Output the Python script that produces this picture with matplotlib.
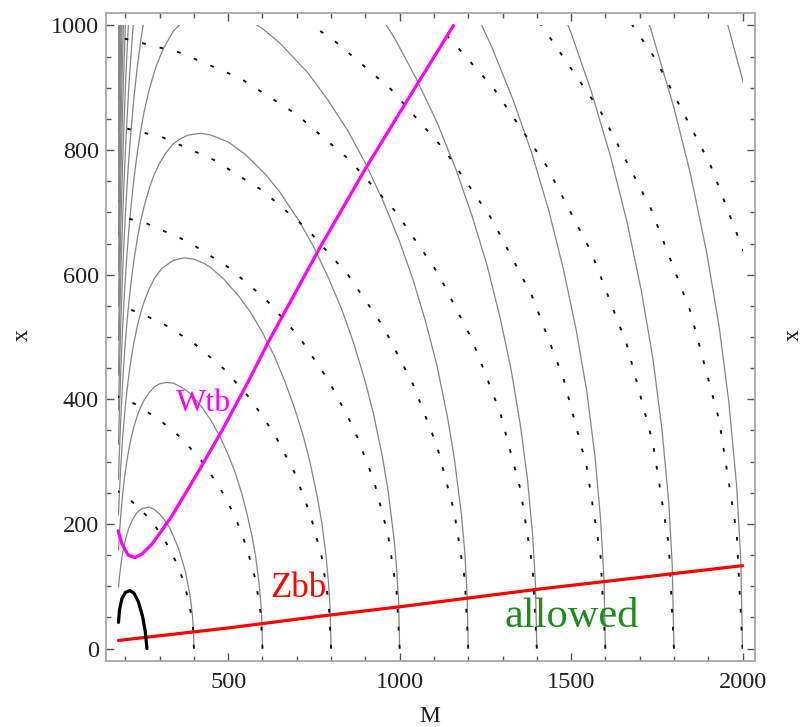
import matplotlib
matplotlib.use("Agg")
import matplotlib.pyplot as plt
from matplotlib.patches import Rectangle
from matplotlib.ticker import MultipleLocator, FixedLocator

plt.rcParams['font.family'] = ['Liberation Serif', 'DejaVu Serif']

# ---------------- data (M, x) ----------------
# solid grey contours (levels 400 ... 3600)
solid_400_M = [180, 183, 186, 190, 195, 200, 210, 220, 235, 250, 270, 285, 300, 315, 330, 355, 375, 388, 392, 396, 399, 400]
solid_400_x = [99, 116, 130, 146, 161, 174, 193, 206, 219, 225, 227, 223, 216, 206, 193, 161, 124, 87, 71, 51, 26, 0]
solid_600_M = [180, 183, 187, 192, 196, 200, 205, 210, 215, 225, 235, 245, 255, 270, 285, 300, 320, 340, 365, 390,
               424, 450, 476, 500, 520, 540, 554, 570, 580, 590, 595, 598, 600]
solid_600_x = [158, 186, 216, 247, 267, 284, 303, 319, 333, 356, 374, 388, 399, 411, 420, 425, 427, 426, 419, 409,
               387, 366, 340, 311, 283, 248, 218, 179, 148, 104, 75, 47, 0]
solid_800_M = [180, 183, 187, 192, 196, 200, 205, 210, 215, 225, 235, 245, 255, 270, 285, 306, 340, 370, 400, 430,
               450, 487, 530, 566, 600, 635, 665, 693, 720, 739, 760, 773, 785, 793, 797, 800]
solid_800_x = [215, 254, 295, 337, 365, 389, 415, 438, 458, 491, 518, 539, 557, 578, 594, 610, 623, 627, 625, 618,
               611, 593, 566, 539, 507, 469, 429, 387, 339, 298, 243, 202, 151, 102, 68, 0]
solid_1000_M = [180, 183, 187, 192, 196, 200, 205, 210, 215, 225, 235, 245, 255, 270, 285, 300, 320, 340, 360, 383,
                420, 450, 500, 550, 609, 650, 707, 750, 793, 830, 866, 900, 924, 950, 966, 985, 991, 997, 1000]
solid_1000_x = [272, 321, 373, 426, 461, 492, 525, 554, 580, 623, 658, 687, 710, 739, 762, 779, 797, 810, 818, 824,
                827, 824, 813, 793, 761, 733, 686, 644, 594, 546, 490, 428, 376, 307, 255, 170, 129, 76, 0]
solid_1200_M = [180, 183, 187, 192, 196, 200, 205, 210, 215, 225, 235, 245, 255, 270, 290, 311, 340, 380, 420, 459,
                500, 550, 600, 650, 731, 790, 849, 900, 952, 1000, 1039, 1075, 1109, 1140, 1159, 1180, 1190, 1197, 1200]
solid_1200_x = [328, 387, 450, 514, 557, 594, 634, 670, 701, 754, 796, 832, 862, 898, 935, 963, 991, 1013, 1024, 1027,
                1024, 1012, 995, 972, 925, 881, 831, 779, 718, 653, 592, 526, 454, 370, 307, 216, 155, 84, 0]
solid_1400_M = [180, 183, 187, 192, 196, 200, 205, 210, 215, 225, 235, 245, 255, 270,
                852, 920, 990, 1050, 1111, 1165, 1212, 1255, 1293, 1325, 1352, 1373, 1388, 1396, 1400]
solid_1400_x = [383, 453, 527, 602, 652, 695, 743, 785, 821, 884, 934, 976, 1011, 1055,
                1088, 1037, 975, 913, 842, 768, 693, 615, 531, 448, 359, 271, 181, 105, 0]
solid_1600_M = [180, 183, 187, 192, 196, 200, 205, 210, 215, 220, 225,
                1131, 1200, 1269, 1330, 1386, 1435, 1478, 1515, 1546, 1570, 1586, 1596, 1600]
solid_1600_x = [439, 518, 603, 689, 746, 797, 851, 899, 941, 979, 1013,
                1118, 1047, 965, 882, 794, 703, 608, 511, 412, 307, 208, 112, 0]
solid_1800_M = [180, 183, 187, 192, 196, 200, 205, 210,
                1428, 1500, 1559, 1615, 1663, 1705, 1739, 1765, 1785, 1795, 1800]
solid_1800_x = [495, 584, 680, 776, 841, 898, 959, 1013,
                1088, 988, 894, 790, 685, 574, 464, 352, 234, 134, 0]
solid_2000_M = [180, 183, 187, 192, 196, 200, 203,
                1587, 1732, 1800, 1848, 1895, 1932, 1960, 1983, 1995, 2000]
solid_2000_x = [550, 649, 756, 864, 936, 999, 1041,
                1210, 995, 868, 762, 637, 516, 396, 260, 141, 0]
solid_2200_M = [180, 183, 185, 187, 190, 192, 195, 1955, 2000, 2030, 2100]
solid_2200_x = [606, 715, 777, 832, 906, 951, 1011, 1005, 913, 845, 653]
solid_2400_M = [180, 183, 185, 187, 190, 191]
solid_2400_x = [661, 780, 848, 908, 989, 1014]
solid_2600_M = [180, 183, 187, 188]
solid_2600_x = [716, 846, 985, 1015]
solid_2800_M = [180, 183, 185, 186]
solid_2800_x = [772, 911, 990, 1026]
solid_3000_M = [180, 183, 184]
solid_3000_x = [827, 976, 1020]
solid_3200_M = [180, 182, 183]
solid_3200_x = [882, 992, 1042]
solid_3400_M = [180, 181, 182]
solid_3400_x = [938, 998, 1055]
solid_3600_M = [180, 181]
solid_3600_x = [993, 1057]

# dotted black contours (levels 400 ... 2200)
dot_400_M = [400, 397, 386, 370, 346, 317, 283, 244, 200, 153, 104]
dot_400_x = [0, 37, 73, 108, 141, 172, 200, 224, 245, 261, 273]
dot_600_M = [600, 595, 580, 554, 520, 476, 424, 365, 300, 230, 155]
dot_600_x = [0, 55, 110, 162, 212, 258, 300, 337, 367, 392, 410]
dot_800_M = [800, 793, 773, 739, 693, 635, 566, 487, 400, 306, 207, 104]
dot_800_x = [0, 74, 146, 216, 283, 344, 400, 449, 490, 523, 546, 561]
dot_1000_M = [1000, 991, 966, 924, 866, 793, 707, 609, 500, 383, 259, 131]
dot_1000_x = [0, 92, 183, 271, 354, 430, 500, 561, 612, 653, 683, 701]
dot_1200_M = [1200, 1190, 1159, 1109, 1039, 952, 849, 731, 600, 459, 311, 157]
dot_1200_x = [0, 111, 220, 325, 424, 517, 600, 673, 735, 784, 820, 841]
dot_1400_M = [1400, 1388, 1352, 1293, 1212, 1111, 990, 852, 700, 536, 362, 183, 100]
dot_1400_x = [0, 129, 256, 379, 495, 603, 700, 785, 857, 915, 956, 981, 987]
dot_1600_M = [1600, 1586, 1545, 1478, 1386, 1269, 1131, 974, 800, 612]
dot_1600_x = [0, 148, 293, 433, 566, 689, 800, 898, 980, 1045]
dot_1800_M = [1800, 1785, 1739, 1663, 1559, 1428, 1273, 1096, 900]
dot_1800_x = [0, 166, 329, 487, 636, 775, 900, 1010, 1102]
dot_2000_M = [2000, 1983, 1932, 1848, 1732, 1587, 1414, 1218]
dot_2000_x = [0, 185, 366, 541, 707, 861, 1000, 1122]
dot_2200_M = [2200, 2181, 2125, 2033, 1905, 1745, 1556]
dot_2200_x = [0, 203, 403, 595, 778, 947, 1100]

# constraint curves
wtb_M = [179, 190, 208, 228, 249, 278, 307, 336, 412, 482, 558, 617, 769, 900, 1000, 1157]
wtb_x = [189, 168, 150, 146, 152, 168, 190, 213, 283, 350, 428, 492, 645, 770, 860, 1000]
zbb_M = [180, 500, 770, 1000, 1400, 1700, 2000]
zbb_x = [13, 33, 52, 67, 95, 114, 133]
black_M = [180, 183, 190, 200, 213, 225, 238, 250, 258, 263]
black_x = [42, 62, 80, 90, 93, 89, 75, 52, 28, 0]

solid_curves = [
    (solid_400_M, solid_400_x), (solid_600_M, solid_600_x), (solid_800_M, solid_800_x),
    (solid_1000_M, solid_1000_x), (solid_1200_M, solid_1200_x), (solid_1400_M, solid_1400_x),
    (solid_1600_M, solid_1600_x), (solid_1800_M, solid_1800_x), (solid_2000_M, solid_2000_x),
    (solid_2200_M, solid_2200_x), (solid_2400_M, solid_2400_x), (solid_2600_M, solid_2600_x),
    (solid_2800_M, solid_2800_x), (solid_3000_M, solid_3000_x), (solid_3200_M, solid_3200_x),
    (solid_3400_M, solid_3400_x), (solid_3600_M, solid_3600_x),
]
dotted_curves = [
    (dot_400_M, dot_400_x), (dot_600_M, dot_600_x), (dot_800_M, dot_800_x),
    (dot_1000_M, dot_1000_x), (dot_1200_M, dot_1200_x), (dot_1400_M, dot_1400_x),
    (dot_1600_M, dot_1600_x), (dot_1800_M, dot_1800_x), (dot_2000_M, dot_2000_x),
    (dot_2200_M, dot_2200_x),
]

# ---------------- figure ----------------
W, H = 806, 727
fig = plt.figure(figsize=(W / 100, H / 100), dpi=100)
ax = fig.add_axes([106 / W, 1 - 661 / H, (755 - 106) / W, (661 - 13) / H])
ax.set_xlim(143.6, 2036.4)
ax.set_ylim(-20, 1020)

domain = Rectangle((180, 0), 1820, 1000, transform=ax.transData, fill=False, visible=False)
ax.add_patch(domain)

for Ms, xs in solid_curves:
    ln, = ax.plot(Ms, xs, color='#858585', lw=0.9, zorder=2, solid_joinstyle='round')
    ln.set_clip_path(domain)

for Ms, xs in dotted_curves:
    ln, = ax.plot(Ms, xs, color='#111111', lw=1.35, linestyle=(0, (2.0, 7.6)), zorder=2)
    ln.set_clip_path(domain)

ax.plot(wtb_M, wtb_x, color='#ff00ff', lw=2.3, zorder=4, solid_capstyle='round')
ax.plot(zbb_M, zbb_x, color='#ff0000', lw=2.3, zorder=4, solid_capstyle='round')
ax.plot(black_M, black_x, color='black', lw=2.3, zorder=4, solid_capstyle='round')

ax.text(427, 381, 'Wtb', color='#ff00ff', fontsize=23, ha='center', va='baseline', zorder=5)
ax.text(705, 82, 'Zbb', color='#ff0000', fontsize=25, ha='center', va='baseline', zorder=5)
ax.text(1502, 34, 'allowed', color='#1e8c1e', fontsize=30.5, ha='center', va='baseline', zorder=5)

# ticks / frame
ax.xaxis.set_major_locator(FixedLocator([500, 1000, 1500, 2000]))
ax.xaxis.set_minor_locator(FixedLocator([m for m in range(200, 2001, 100) if m % 500]))
ax.yaxis.set_major_locator(MultipleLocator(200))
ax.yaxis.set_minor_locator(MultipleLocator(50))
ax.tick_params(which='both', direction='in', top=True, right=True, color='#555555', width=1.0)
ax.tick_params(which='major', length=6, labelsize=17.5, labelcolor='#222222')
ax.tick_params(which='minor', length=3.5)
ax.tick_params(axis='x', which='major', pad=8)
ax.tick_params(axis='y', which='major', pad=5)
for sp in ax.spines.values():
    sp.set_color('#a8a8a8')
    sp.set_linewidth(1.3)

fig.text(430 / W, 1 - 716 / H, 'M', fontsize=17, ha='center', va='center', color='#222222')
fig.text(22 / W, 1 - 335 / H, 'x', fontsize=17, ha='center', va='center', rotation=90, color='#222222')
fig.text(793 / W, 1 - 335 / H, 'x', fontsize=17, ha='center', va='center', rotation=90, color='#222222')

fig.savefig('out.png', dpi=100)
